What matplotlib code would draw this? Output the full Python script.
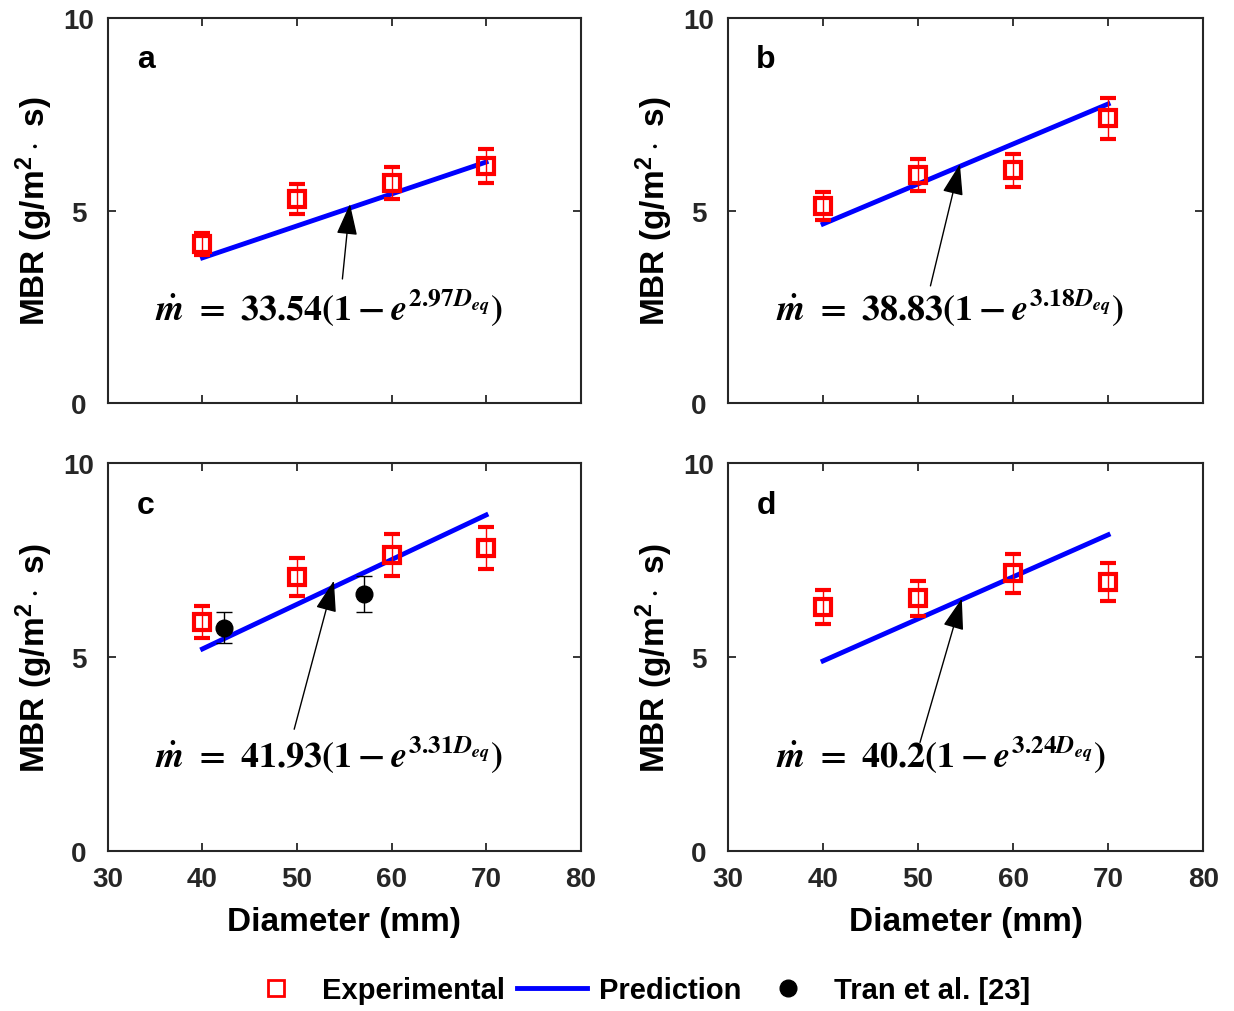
import matplotlib.pyplot as plt
import numpy as np
from matplotlib.lines import Line2D

plt.rcParams['font.family'] = ['Liberation Sans', 'DejaVu Sans']
plt.rcParams['font.weight'] = 'bold'
plt.rcParams['mathtext.fontset'] = 'custom'
plt.rcParams['mathtext.rm'] = 'STIXGeneral:bold'
plt.rcParams['mathtext.bf'] = 'STIXGeneral:bold'
plt.rcParams['mathtext.it'] = 'STIXGeneral:italic:bold'
plt.rcParams['mathtext.sf'] = 'Liberation Sans:bold'

diam = [40, 50, 60, 70]

# measured MBR with error bars, one list per panel
exp_a = [4.13, 5.30, 5.71, 6.16]
err_a = [0.28, 0.38, 0.41, 0.44]
exp_b = [5.12, 5.92, 6.05, 7.40]
err_b = [0.36, 0.42, 0.43, 0.53]
exp_c = [5.91, 7.07, 7.63, 7.82]
err_c = [0.41, 0.49, 0.53, 0.54]
exp_d = [6.28, 6.51, 7.16, 6.94]
err_d = [0.44, 0.45, 0.50, 0.49]

# prediction line end points
pred_a = [3.77, 6.26]
pred_b = [4.65, 7.77]
pred_c = [5.21, 8.66]
pred_d = [4.90, 8.15]
pred_x = [40, 70]

# Tran et al. data (panel c only)
tran_x = [42.3, 57.1]
tran_y = [5.76, 6.62]
tran_err = [0.40, 0.46]

eqs = [r'$\dot{m}\ =\ 33.54(1-e^{2.97D_{eq}})$',
       r'$\dot{m}\ =\ 38.83(1-e^{3.18D_{eq}})$',
       r'$\dot{m}\ =\ 41.93(1-e^{3.31D_{eq}})$',
       r'$\dot{m}\ =\ 40.2(1-e^{3.24D_{eq}})$']
# arrow tip and tail (data coords)
tips = [(55.6, 5.17), (54.4, 6.21), (53.9, 6.97), (54.6, 6.51)]
tails = [(54.8, 3.22), (51.3, 3.04), (49.7, 3.14), (50.2, 2.80)]
panel_labels = ['a', 'b', 'c', 'd']

exps = [exp_a, exp_b, exp_c, exp_d]
errs = [err_a, err_b, err_c, err_d]
preds = [pred_a, pred_b, pred_c, pred_d]

fig = plt.figure(figsize=(12.34, 10.12), dpi=100)
boxes = [[0.0875, 0.601, 0.383, 0.380],
         [0.590, 0.601, 0.385, 0.380],
         [0.0875, 0.158, 0.383, 0.3835],
         [0.590, 0.158, 0.385, 0.3835]]
dark = '#262626'

for i in range(4):
    ax = fig.add_axes(boxes[i])
    ax.plot(pred_x, preds[i], color='blue', lw=3.5, zorder=2)
    ax.errorbar(diam, exps[i], yerr=errs[i], fmt='s', color='red', mfc='none',
                mec='red', ms=12, mew=3, elinewidth=1.0, capsize=6, capthick=1.0, zorder=3)
    if i == 2:
        ax.errorbar(tran_x, tran_y, yerr=tran_err, fmt='o', color='black', ms=12,
                    elinewidth=1.0, capsize=6, capthick=1.0, zorder=4)
    ax.annotate('', xy=tips[i], xytext=tails[i],
                arrowprops=dict(arrowstyle='-|>,head_length=1.5,head_width=0.5',
                                mutation_scale=13, color='black', lw=1,
                                shrinkA=0, shrinkB=0), zorder=5)
    ax.text(35.0, 2.5, eqs[i], fontsize=26, va='center', ha='left')
    ax.text(0.08, 0.893, panel_labels[i], transform=ax.transAxes, fontsize=23,
            fontweight='bold', va='center', ha='center')
    ax.set_xlim(30, 80)
    ax.set_ylim(0, 10)
    ax.set_xticks([30, 40, 50, 60, 70, 80])
    ax.set_yticks([0, 5, 10])
    ax.tick_params(direction='in', top=True, right=True, length=6, width=1.3,
                   labelsize=20, color=dark, labelcolor=dark)
    ax.tick_params(axis='x', pad=11)
    ax.tick_params(axis='y', pad=21)
    for lbl in ax.get_yticklabels():
        lbl.set_ha('center')
    for lbl in ax.get_xticklabels() + ax.get_yticklabels():
        lbl.set_fontweight('bold')
    for s in ax.spines.values():
        s.set_linewidth(1.5)
        s.set_color(dark)
    ax.set_ylabel(r'MBR (g/m$^{\mathsf{2}}\cdot$ s)', fontsize=24, fontweight='bold',
                  labelpad=7)
    if i < 2:
        ax.tick_params(labelbottom=False)
    else:
        ax.set_xlabel('Diameter (mm)', fontsize=24, fontweight='bold', labelpad=10)

handles = [Line2D([], [], ls='none', marker='s', mfc='none', mec='red', ms=11, mew=2),
           Line2D([], [], color='blue', lw=3.5),
           Line2D([], [], ls='none', marker='o', color='black', ms=12)]
fig.legend(handles, ['Experimental', 'Prediction', 'Tran et al. [23]'],
           loc='center', bbox_to_anchor=(0.515, 0.021), ncol=3, frameon=False,
           prop={'size': 21, 'weight': 'bold'}, handlelength=2.4, columnspacing=0.4,
           handletextpad=0.4)

fig.savefig('out.png', dpi=100)
